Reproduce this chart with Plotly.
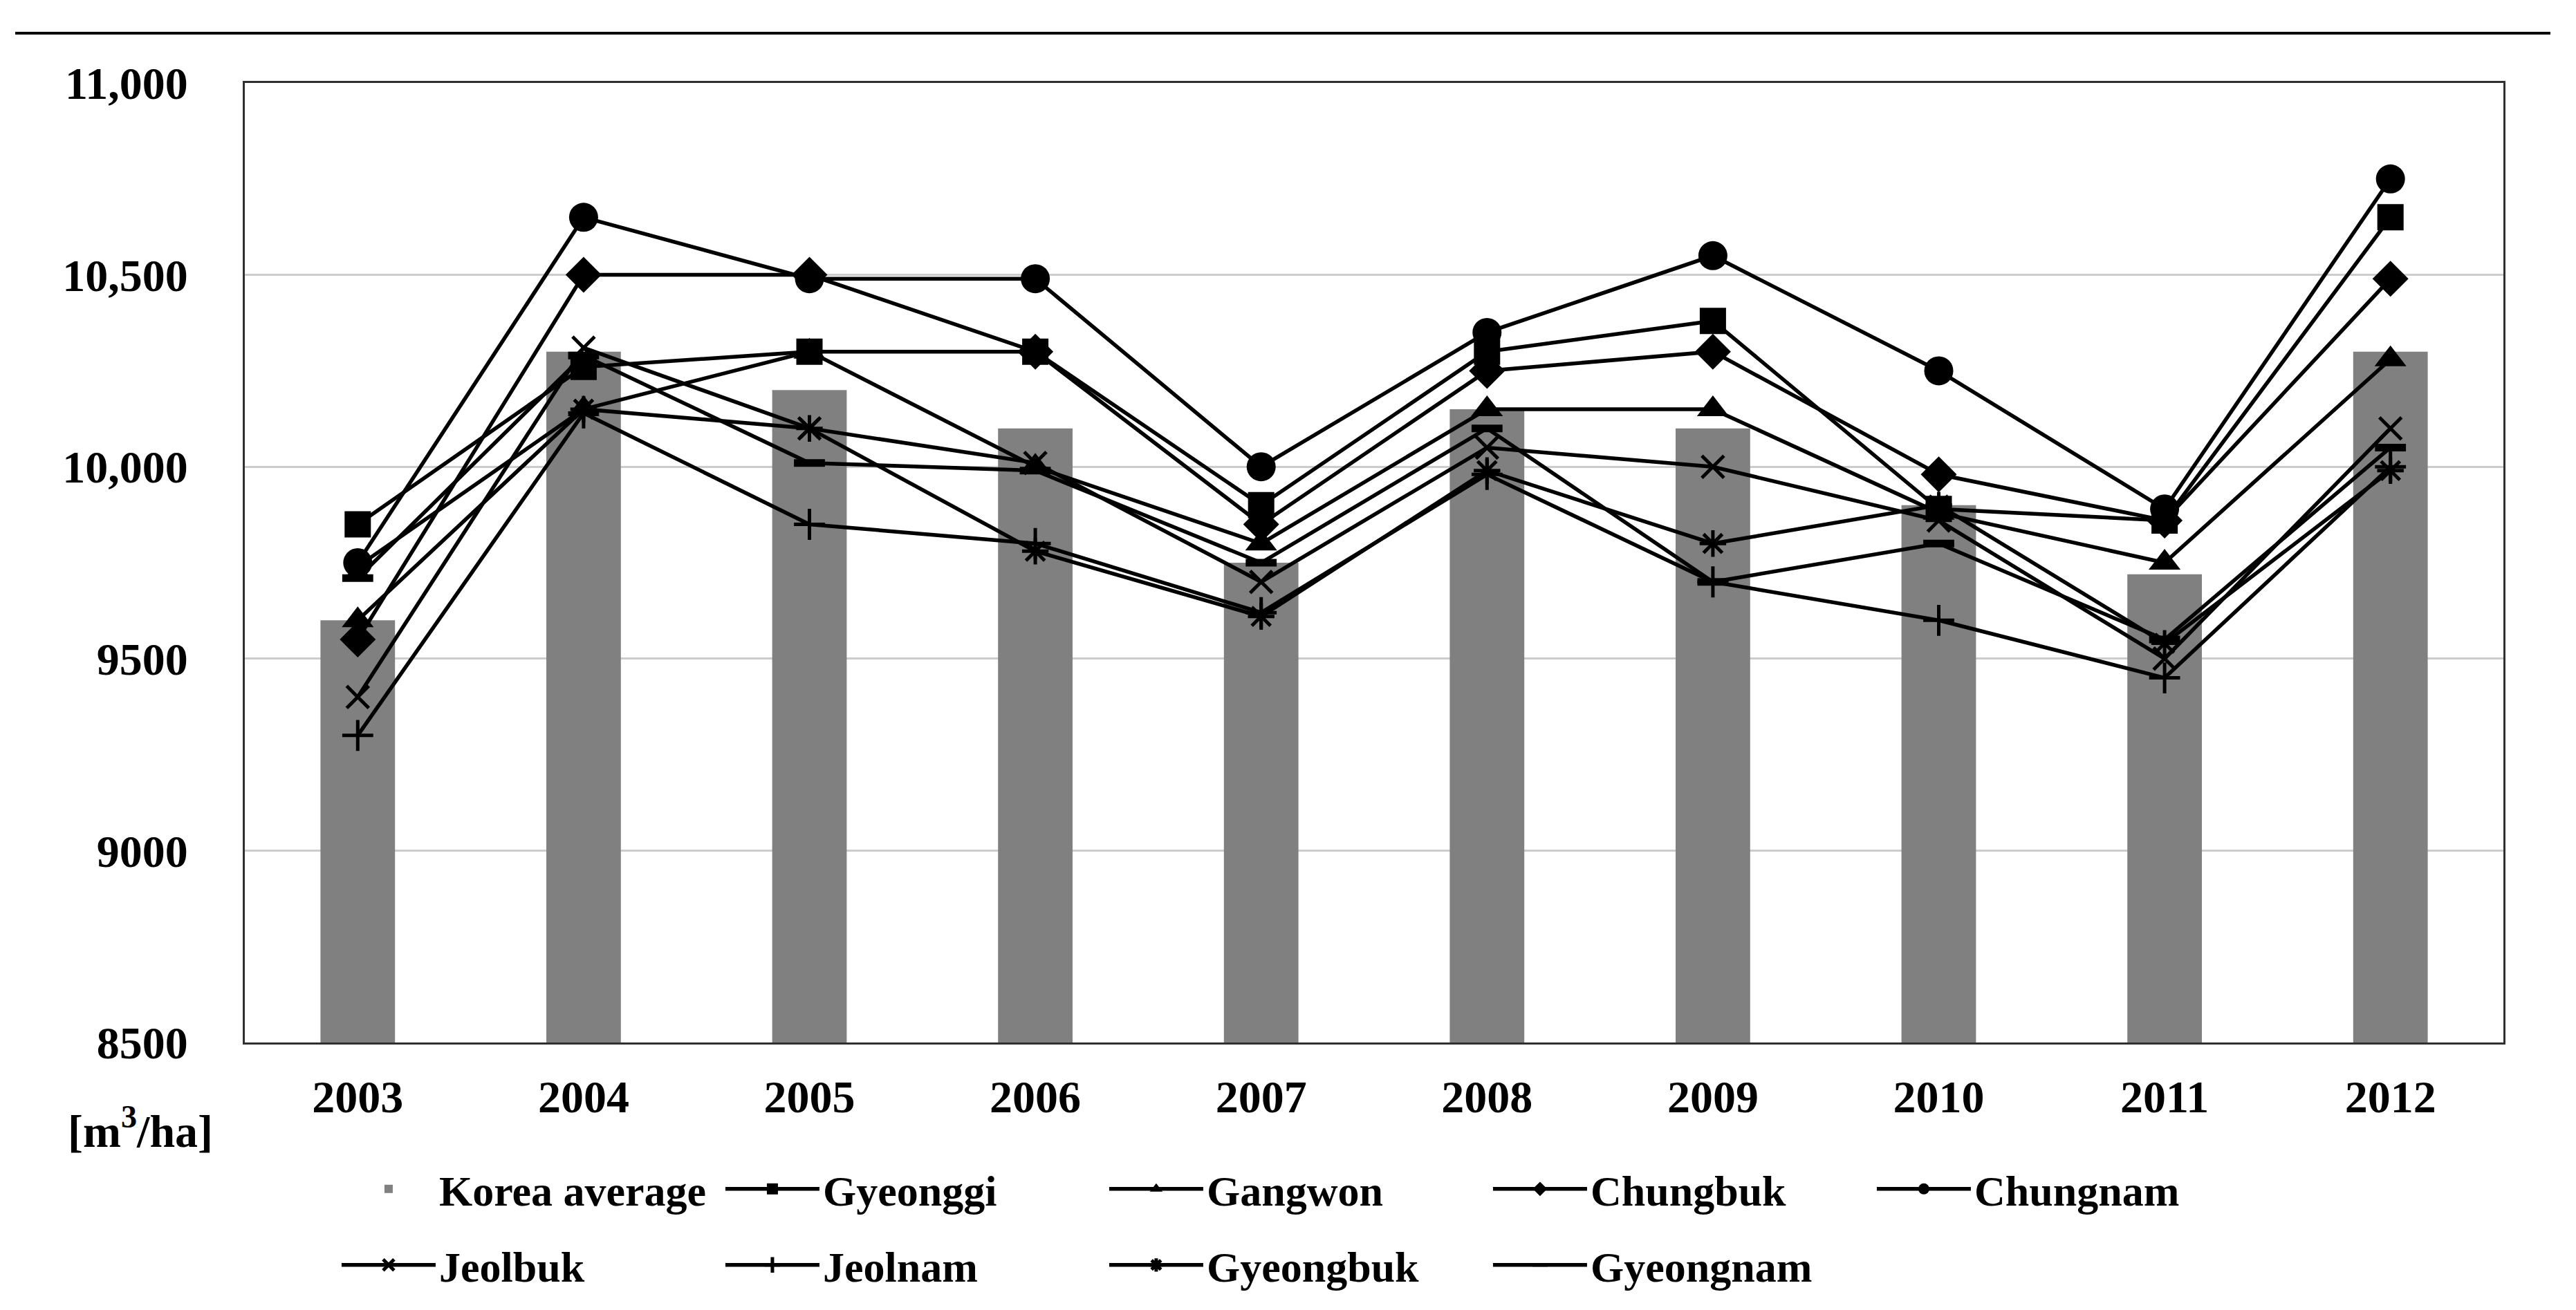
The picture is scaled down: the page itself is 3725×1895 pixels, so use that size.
import plotly.graph_objects as go

years = ["2003", "2004", "2005", "2006", "2007", "2008", "2009", "2010", "2011", "2012"]
korea_average = [9600, 10300, 10200, 10100, 9750, 10150, 10100, 9900, 9720, 10300]
gyeonggi = [9850, 10260, 10300, 10300, 9900, 10300, 10380, 9890, 9860, 10650]
gangwon = [9600, 10150, 10300, 10000, 9800, 10150, 10150, 9880, 9750, 10280]
chungbuk = [9550, 10500, 10500, 10300, 9850, 10250, 10300, 9980, 9860, 10490]
chungnam = [9750, 10650, 10490, 10490, 10000, 10350, 10550, 10250, 9890, 10750]
jeolbuk = [9400, 10310, 10100, 10010, 9700, 10050, 10000, 9860, 9500, 10100]
jeolnam = [9300, 10140, 9850, 9800, 9620, 9980, 9700, 9600, 9450, 10000]
gyeongbuk = [9740, 10150, 10100, 9780, 9610, 9990, 9800, 9900, 9540, 9990]
gyeongnam = [9710, 10290, 10010, 9990, 9750, 10100, 9700, 9800, 9550, 10050]

y_tickvals = [8500, 9000, 9500, 10000, 10500, 11000]
y_ticktext = ["8500", "9000", "9500", "10,000", "10,500", "11,000"]

FONT = "Liberation Serif"
W, H = 3725, 1895
ML, MR, MT, MB = 346, 113, 112, 395

fig = go.Figure()
fig.add_trace(go.Bar(x=years, y=korea_average, name="Korea average",
                     marker=dict(color="#808080", line=dict(width=0)),
                     width=0.33, legend="legend"))

series = [
    ("Gyeonggi", gyeonggi, "square", 38, 0, "legend"),
    ("Gangwon", gangwon, "triangle-up", 40, 0, "legend"),
    ("Chungbuk", chungbuk, "diamond", 40, 0, "legend"),
    ("Chungnam", chungnam, "circle", 42, 0, "legend"),
    ("Jeolbuk", jeolbuk, "x-thin-open", 32, 5, "legend2"),
    ("Jeolnam", jeolnam, "cross-thin-open", 32, 5, "legend2"),
    ("Gyeongbuk", gyeongbuk, "asterisk-open", 32, 5, "legend2"),
    ("Gyeongnam", gyeongnam, "line-ew-open", 32, 11, "legend2"),
]
for name, vals, sym, size, lw, leg in series:
    fig.add_trace(go.Scatter(
        x=years, y=vals, name=name, mode="lines+markers",
        line=dict(color="black", width=5.5),
        marker=dict(symbol=sym, size=size, color="black",
                    line=dict(color="black", width=lw)),
        legend=leg))

plot_w = W - ML - MR
plot_h = H - MT - MB
leg_x = (494 - ML) / plot_w

legend_common = dict(
    orientation="h", xref="paper", yref="paper", xanchor="left", yanchor="middle",
    x=leg_x - 0.004, entrywidth=404, entrywidthmode="pixels", itemwidth=136,
    font=dict(family=FONT, size=62, color="black", weight="bold"),
    bgcolor="rgba(0,0,0,0)", traceorder="normal", itemsizing="trace",
)

fig.update_layout(
    width=W, height=H,
    margin=dict(l=ML, r=MR, t=MT, b=MB),
    paper_bgcolor="white", plot_bgcolor="white",
    font=dict(family=FONT, size=66, color="black", weight="bold"),
    bargap=0.67,
    showlegend=True,
    legend=dict(legend_common, y=-(1712 - (H - MB)) / plot_h),
    legend2=dict(legend_common, y=-(1822 - (H - MB)) / plot_h),
    xaxis=dict(type="category", range=[-0.5, len(years) - 0.5], autorange=False,
               showgrid=False, showline=True, linecolor="#303030",
               linewidth=3, mirror=True, ticks="", ticklabelstandoff=19,
               tickfont=dict(family=FONT, size=66, color="black", weight="bold")),
    yaxis=dict(range=[8500, 11000], tickvals=y_tickvals, ticktext=y_ticktext,
               showgrid=True, gridcolor="#cccccc", gridwidth=3, zeroline=False,
               showline=True, linecolor="#303030", linewidth=3, mirror=True,
               ticks="", ticklabelstandoff=66,
               tickfont=dict(family=FONT, size=66, color="black", weight="bold")),
)

fig.add_annotation(text="[m<sup>3</sup>/ha]", xref="paper", yref="paper",
                   x=-(ML - 88) / plot_w, y=-(1623 - (H - MB)) / plot_h,
                   xanchor="left", yanchor="middle", showarrow=False,
                   font=dict(family=FONT, size=66, color="black", weight="bold"))

fig.add_shape(type="line", xref="paper", yref="paper",
              x0=-(ML - 14) / plot_w, x1=(3680 - ML) / plot_w,
              y0=1 + (MT - 40) / plot_h, y1=1 + (MT - 40) / plot_h,
              line=dict(color="black", width=4))

fig.write_html("out.html")
